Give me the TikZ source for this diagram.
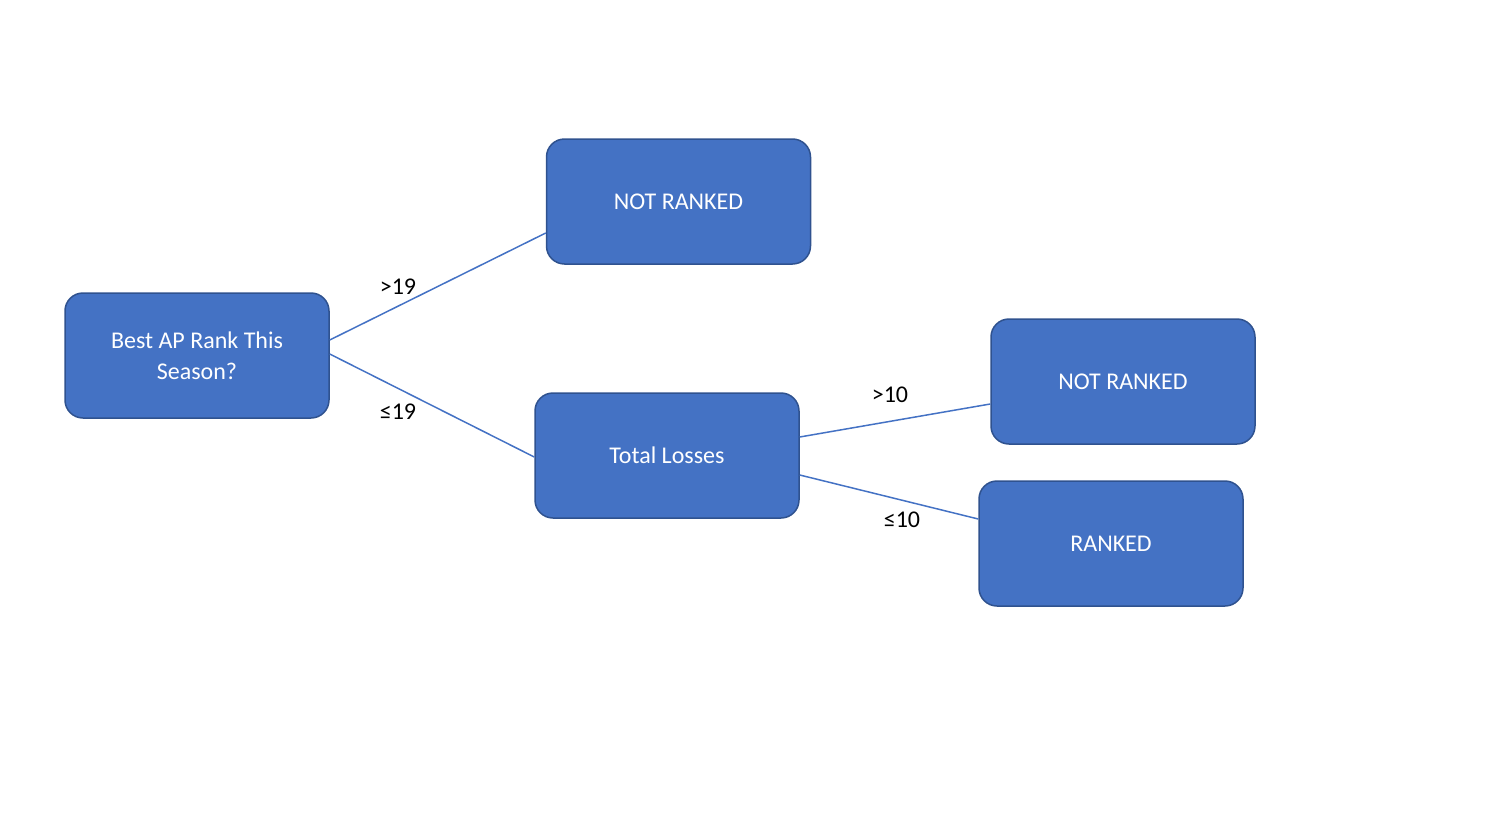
\documentclass[tikz,border=0pt]{standalone}
\usepackage{fontspec}
\setmainfont{Carlito}
\definecolor{boxfill}{HTML}{4472C4}
\definecolor{boxline}{HTML}{2F528F}
\begin{document}
\begin{tikzpicture}[x=1pt,y=-1pt,
  box/.style={draw=boxline, fill=boxfill, line width=1.5pt, rounded corners=18pt,
    minimum width=264pt, minimum height=125pt, text=white, font=\fontsize{24}{31}\selectfont,
    align=center, inner sep=0pt},
  conn/.style={draw=boxfill, line width=1.5pt},
  lbl/.style={font=\fontsize{24}{28}\selectfont, text=black, inner sep=0pt}]
\useasboundingbox (0,0) rectangle (1492,822);
\node[box] (A) at (197,355.5) {Best AP Rank This\\Season?};
\node[box] (B) at (678.5,201.5) {NOT RANKED};
\node[box] (C) at (667,455.5) {Total Losses};
\node[box] (D) at (1123,381.5) {NOT RANKED};
\node[box] (E) at (1111,543.5) {RANKED};
\draw[conn] ([yshift=15.5pt]A.east) -- ([yshift=-31.5pt]B.west);
\draw[conn] ([yshift=1.5pt]A.east) -- ([yshift=-1.5pt]C.west);
\draw[conn] ([yshift=18.5pt]C.east) -- ([yshift=-22.5pt]D.west);
\draw[conn] ([yshift=-19.5pt]C.east) -- ([yshift=24.5pt]E.west);
\node[lbl] (l1) at (398,287) {>19};
\node[lbl] (l2) at (398,412) {≤19};
\node[lbl] (l3) at (890,395) {>10};
\node[lbl] (l4) at (902,520) {≤10};
\end{tikzpicture}
\end{document}
